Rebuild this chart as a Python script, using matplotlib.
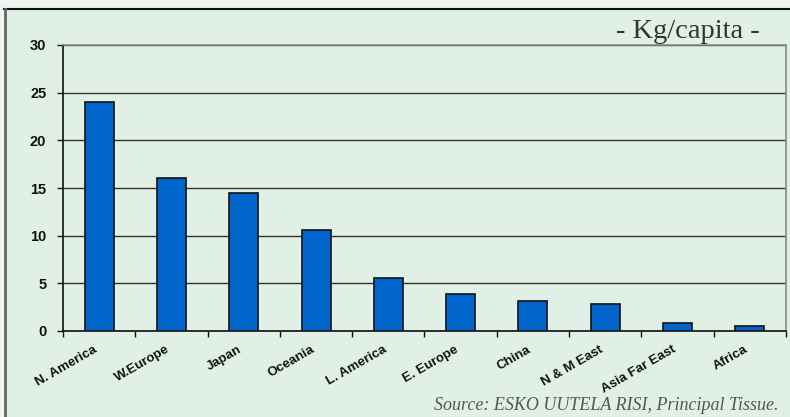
import matplotlib
matplotlib.use("Agg")
import matplotlib.pyplot as plt
from matplotlib.lines import Line2D
from matplotlib.patches import Rectangle

categories = ["N. America", "W.Europe", "Japan", "Oceania", "L. America",
              "E. Europe", "China", "N & M East", "Asia Far East", "Africa"]
values = [24, 16, 14.5, 10.6, 5.6, 3.9, 3.1, 2.8, 0.8, 0.5]
yticks = [0, 5, 10, 15, 20, 25, 30]

W, H = 790, 417
fig = plt.figure(figsize=(W / 100, H / 100), dpi=100)
fig.patch.set_facecolor("#e1f0e6")

# outer light strips + frame
fig.add_artist(Rectangle((0, (H - 9) / H), 1, 9 / H, transform=fig.transFigure,
                         facecolor="#eef4f0", edgecolor="none", zorder=-5))
fig.add_artist(Rectangle((0, 0), 4 / W, 1, transform=fig.transFigure,
                         facecolor="#eef4f0", edgecolor="none", zorder=-5))
fig.add_artist(Line2D([4 / W, 1], [(H - 9) / H] * 2, color="#111111", lw=1.5,
                      transform=fig.transFigure))
fig.add_artist(Line2D([4.5 / W] * 2, [0, (H - 9) / H], color="#666666", lw=2,
                      transform=fig.transFigure))

ax = fig.add_axes([63 / W, (H - 331) / H, (786 - 63) / W, (331 - 45) / H])
ax.set_facecolor("#e1f0e6")
x = list(range(len(categories)))
ax.bar(x, values, width=0.4, color="#0066cc", edgecolor="#111111", linewidth=1.2, zorder=3)
ax.set_xlim(-0.5, len(categories) - 0.5)
ax.set_ylim(0, 30)
ax.set_yticks(yticks)
ax.set_yticklabels([str(v) for v in yticks], fontsize=10.5, fontweight="bold",
                   family="Liberation Sans", color="#111111")
ax.yaxis.grid(True, color="#333333", lw=1, zorder=1)
ax.set_axisbelow(True)

ax.set_xticks([i + 0.5 for i in range(-1, len(categories))])
ax.set_xticklabels([])
ax.tick_params(axis="x", direction="out", length=4, width=1, color="#111111")
ax.tick_params(axis="y", direction="out", length=4, width=1, color="#111111", pad=8)
for i, c in enumerate(categories):
    ax.text(i - 0.08, -1.3, c, rotation=30, ha="right", va="top", rotation_mode="anchor",
            fontsize=9.5, fontweight="bold", family="Liberation Sans", color="#111111")

for s in ["left", "bottom"]:
    ax.spines[s].set_color("#111111")
    ax.spines[s].set_linewidth(1.2)
for s in ["top", "right"]:
    ax.spines[s].set_color("#888888")
    ax.spines[s].set_linewidth(1.2)

fig.text(760 / W, (H - 31) / H, "- Kg/capita -", ha="right", va="center",
         fontsize=20.5, family="Liberation Serif", color="#333333")
fig.text(779 / W, (H - 406) / H, "Source: ESKO UUTELA RISI, Principal Tissue.",
         ha="right", va="center", fontsize=13, family="Liberation Serif",
         style="italic", color="#555555")

fig.savefig("out.png", dpi=100, facecolor=fig.get_facecolor())
